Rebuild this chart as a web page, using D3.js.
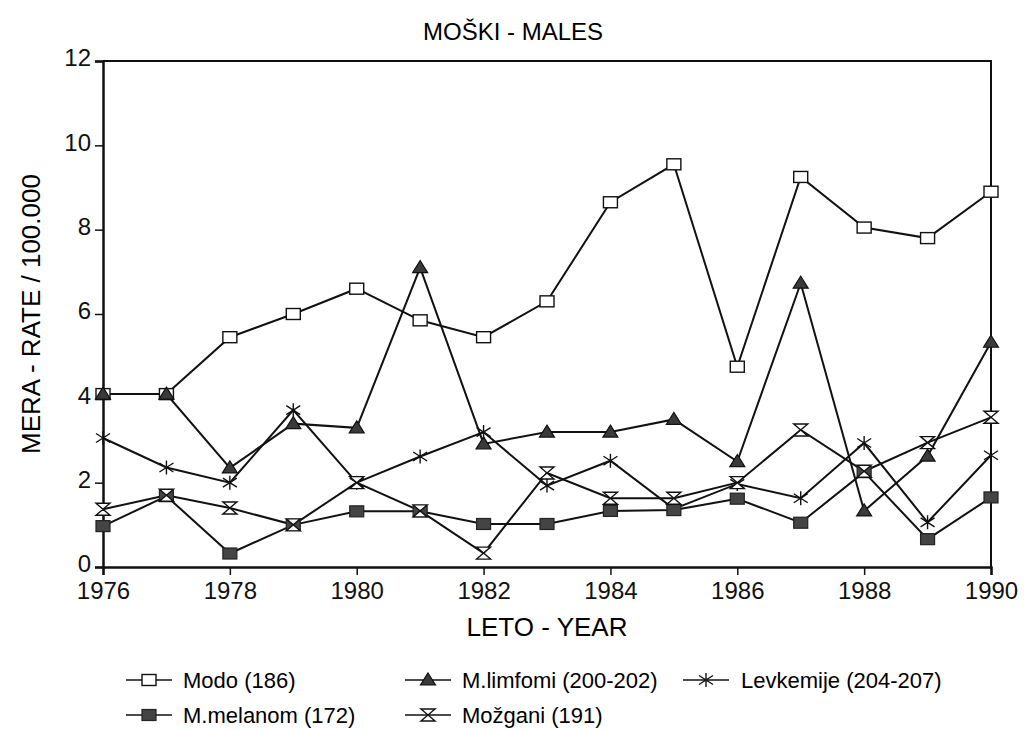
<!DOCTYPE html>
<html>
<head>
<meta charset="utf-8">
<script src="https://cdn.jsdelivr.net/npm/d3@7"></script>
<style>
  body { margin: 0; background: #fff; }
  svg { font-family: "Liberation Sans", Arial, Helvetica, sans-serif; }
</style>
</head>
<body>
<div id="display"></div>
<script>
// years on x axis
var years = [1976,1977,1978,1979,1980,1981,1982,1983,1984,1985,1986,1987,1988,1989,1990];
var xTicks = [1976,1978,1980,1982,1984,1986,1988,1990];
var yTicks = [0,2,4,6,8,10,12];

// rates per 100.000
var modo      = [4.1,4.1,5.45,6.0,6.6,5.85,5.45,6.3,8.65,9.55,4.75,9.25,8.05,7.8,8.9];
var limfomi   = [4.1,4.1,2.35,3.4,3.3,7.1,2.92,3.2,3.2,3.5,2.5,6.73,1.33,2.63,5.33];
var levkemije = [3.06,2.36,2.0,3.72,2.0,2.62,3.2,1.93,2.52,1.38,1.97,1.63,2.94,1.06,2.65];
var melanom   = [0.97,1.68,0.32,1.0,1.32,1.32,1.02,1.02,1.33,1.35,1.62,1.05,2.25,0.66,1.65];
var mozgani   = [1.37,1.7,1.4,1.0,2.0,1.33,0.33,2.23,1.63,1.63,2.0,3.25,2.27,2.95,3.55];

var seriesNames = ["Modo (186)","M.limfomi (200-202)","Levkemije (204-207)","M.melanom (172)","Možgani (191)"];
var seriesValues = [modo, limfomi, levkemije, melanom, mozgani];
var seriesMarkers = ["openSquare","triangle","asterisk","filledSquare","hourglass"];

var width = 1026, height = 730;
var margin = {left:103, right:35, top:61, bottom:163};

var svg = d3.select("#display").append("svg")
    .attr("width", width)
    .attr("height", height);

var x = d3.scaleLinear()
    .domain([1976, 1990])
    .range([margin.left, width - margin.right]);

var y = d3.scaleLinear()
    .domain([0, 12])
    .range([height - margin.bottom, margin.top]);

// frame top + right
svg.append("path")
    .attr("d", "M" + x(1976) + "," + y(12) + "H" + x(1990) + "V" + y(0))
    .attr("fill", "none")
    .attr("stroke", "#111")
    .attr("stroke-width", 2);

// axes
var xAxis = g => g
    .attr("transform", `translate(0,${y(0)})`)
    .call(d3.axisBottom(x).tickValues(xTicks).tickFormat(d3.format("d")).tickSizeOuter(0).tickSize(8).tickPadding(7));

var yAxis = g => g
    .attr("transform", `translate(${x(1976)},0)`)
    .call(d3.axisLeft(y).tickValues(yTicks).tickSizeOuter(0).tickSize(8).tickPadding(4));

svg.append("g").call(xAxis);
var yg = svg.append("g").call(yAxis);

svg.selectAll(".domain").attr("stroke", "#111").attr("stroke-width", 2.5);
svg.selectAll(".tick line").attr("stroke", "#111").attr("stroke-width", 1.5);
svg.selectAll(".tick text")
    .attr("fill", "#111")
    .style("font-size", "24px")
    .style("font-family", "'Liberation Sans', Arial, sans-serif");
// nudge y labels up a touch so "0" clears "1976"
yg.selectAll(".tick text").attr("dy", "0.2em");

// titles
svg.append("text")
    .attr("x", 513).attr("y", 40)
    .attr("text-anchor", "middle")
    .style("font-size", "24px")
    .text("MOŠKI - MALES");

svg.append("text")
    .attr("x", (x(1976) + x(1990)) / 2).attr("y", 636)
    .attr("text-anchor", "middle")
    .style("font-size", "26px")
    .text("LETO - YEAR");

svg.append("text")
    .attr("transform", "translate(40," + (y(0) + y(12)) / 2 + ") rotate(-90)")
    .attr("text-anchor", "middle")
    .style("font-size", "26px")
    .text("MERA - RATE / 100.000");

// marker shapes
function drawMarker(g, type) {
  if (type == "openSquare") {
    g.append("rect").attr("x", -7).attr("y", -5.5).attr("width", 14).attr("height", 11)
      .attr("fill", "#fff").attr("stroke", "#111").attr("stroke-width", 1.4);
  } else if (type == "filledSquare") {
    g.append("rect").attr("x", -7).attr("y", -5.5).attr("width", 14).attr("height", 11)
      .attr("fill", "#444").attr("stroke", "#222").attr("stroke-width", 1.2);
  } else if (type == "triangle") {
    g.append("path").attr("d", "M0,-7L7.5,5L-7.5,5Z")
      .attr("fill", "#3a3a3a").attr("stroke", "#111").attr("stroke-width", 1.2);
  } else if (type == "asterisk") {
    g.append("path").attr("d", "M0,-7V7M-7,-4.5L7,4.5M-7,4.5L7,-4.5")
      .attr("fill", "none").attr("stroke", "#111").attr("stroke-width", 1.4);
  } else if (type == "hourglass") {
    g.append("path").attr("d", "M-7,-6H7L-7,6H7Z")
      .attr("fill", "#fff").attr("stroke", "#111").attr("stroke-width", 1.4);
  }
}

var line = d3.line()
    .x((d, i) => x(years[i]))
    .y(d => y(d));

// lines first, markers on top
seriesValues.forEach(function(vals) {
  svg.append("path")
    .datum(vals)
    .attr("d", line)
    .attr("fill", "none")
    .attr("stroke", "#111")
    .attr("stroke-width", 2);
});

seriesValues.forEach(function(vals, s) {
  var grp = svg.append("g");
  vals.forEach(function(v, i) {
    var m = grp.append("g").attr("transform", "translate(" + x(years[i]) + "," + y(v) + ")");
    drawMarker(m, seriesMarkers[s]);
  });
});

// legend
var legendX = [126, 405, 683, 126, 405];
var legendY = [680, 680, 680, 715, 715];
seriesNames.forEach(function(name, i) {
  var lg = svg.append("g").attr("transform", "translate(" + legendX[i] + "," + legendY[i] + ")");
  lg.append("line").attr("x1", 0).attr("x2", 46).attr("y1", 0).attr("y2", 0)
    .attr("stroke", "#111").attr("stroke-width", 1.5);
  var m = lg.append("g").attr("transform", "translate(23,0)");
  drawMarker(m, seriesMarkers[i]);
  lg.append("text")
    .attr("x", i == 2 ? 58 : 57).attr("y", 8)
    .style("font-size", "22px")
    .text(name);
});
</script>
</body>
</html>
